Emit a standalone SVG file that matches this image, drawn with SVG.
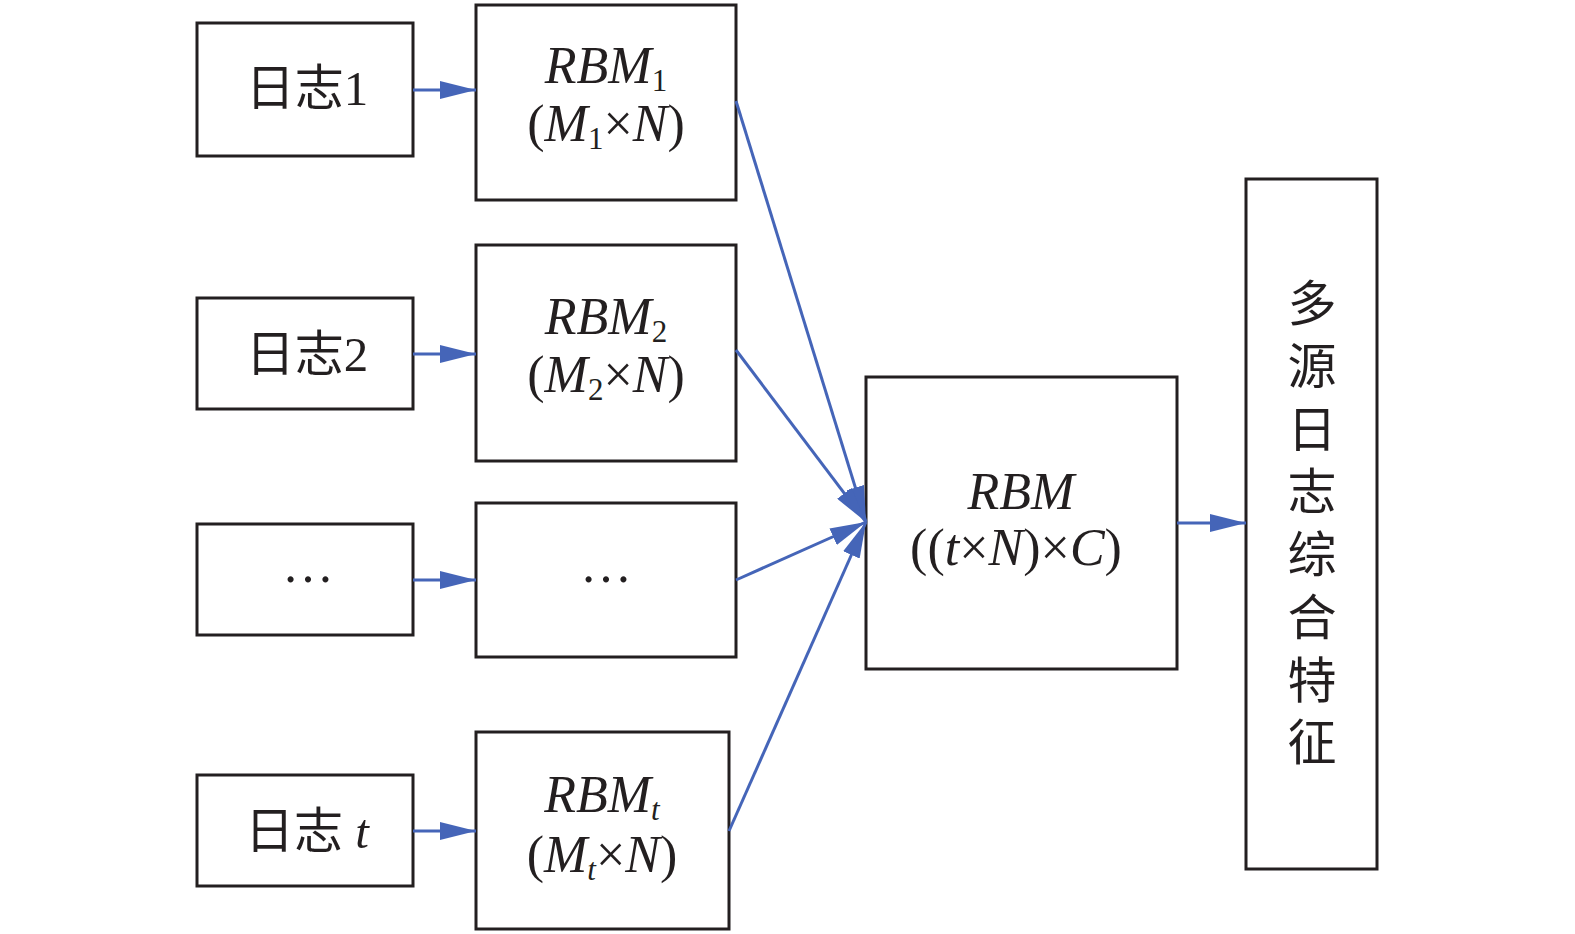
<svg xmlns="http://www.w3.org/2000/svg" width="1575" height="934" viewBox="0 0 1575 934">
<style>
.box{fill:#fff;stroke:#231f20;stroke-width:3}
.t{font-family:"Liberation Serif","Noto Sans CJK SC",serif;font-size:52px;fill:#231f20;text-anchor:middle}
.cjk{font-family:"Liberation Serif","Noto Sans CJK SC",serif;font-size:49px;fill:#231f20;text-anchor:middle}
.i{font-style:italic}
.sub{font-size:31px}
.con{stroke:#4565b8;stroke-width:3;fill:none;marker-end:url(#ah)}
</style>
<defs>
<marker id="ah" markerUnits="userSpaceOnUse" viewBox="0 0 36 18" refX="36" refY="9" markerWidth="36" markerHeight="18" orient="auto">
<path d="M0,0 L36,9 L0,18 z" fill="#4565b8"/>
</marker>
</defs>
<rect width="1575" height="934" fill="#fff"/>
<g id="log1"><rect class="box" x="197" y="23" width="216" height="133"/><text class="cjk" x="307" y="105">日志1</text></g>
<g id="log2"><rect class="box" x="197" y="298" width="216" height="111"/><text class="cjk" x="307" y="371">日志2</text></g>
<g id="log3"><rect class="box" x="197" y="524" width="216" height="111"/><text class="t" x="308" y="582">…</text></g>
<g id="logt"><rect class="box" x="197" y="775" width="216" height="111"/><text class="cjk" x="307" y="848">日志 <tspan class="i">t</tspan></text></g>
<g id="rbm1"><rect class="box" x="476" y="5" width="260" height="195"/>
<text class="t" x="606" y="83"><tspan class="i">RBM</tspan><tspan class="sub" dy="8">1</tspan></text>
<text class="t" x="606" y="141">(<tspan class="i">M</tspan><tspan class="sub" dy="8">1</tspan><tspan dy="-8">×</tspan><tspan class="i">N</tspan>)</text></g>
<g id="rbm2"><rect class="box" x="476" y="245" width="260" height="216"/>
<text class="t" x="606" y="334"><tspan class="i">RBM</tspan><tspan class="sub" dy="8">2</tspan></text>
<text class="t" x="606" y="392">(<tspan class="i">M</tspan><tspan class="sub" dy="8">2</tspan><tspan dy="-8">×</tspan><tspan class="i">N</tspan>)</text></g>
<g id="rbm3"><rect class="box" x="476" y="503" width="260" height="154"/><text class="t" x="606" y="582">…</text></g>
<g id="rbmt"><rect class="box" x="476" y="732" width="253" height="197"/>
<text class="t" x="602" y="812"><tspan class="i">RBM</tspan><tspan class="sub i" dy="8">t</tspan></text>
<text class="t" x="602" y="872">(<tspan class="i">M</tspan><tspan class="sub i" dy="8">t</tspan><tspan dy="-8">×</tspan><tspan class="i">N</tspan>)</text></g>
<g id="rbm"><rect class="box" x="866" y="377" width="311" height="292"/>
<text class="t" x="1021" y="509"><tspan class="i">RBM</tspan></text>
<text class="t" x="1016" y="565">((<tspan class="i">t</tspan>×<tspan class="i">N</tspan>)×<tspan class="i">C</tspan>)</text></g>
<g id="feature"><rect class="box" x="1246" y="179" width="131" height="690"/>
<text class="cjk" dominant-baseline="central"><tspan x="1312" y="304">多</tspan><tspan x="1312" y="367">源</tspan><tspan x="1312" y="430">日</tspan><tspan x="1312" y="492">志</tspan><tspan x="1312" y="555">综</tspan><tspan x="1312" y="618">合</tspan><tspan x="1312" y="681">特</tspan><tspan x="1312" y="743">征</tspan></text></g>
<g id="connectors">
<line class="con" x1="413" y1="90" x2="476" y2="90"/>
<line class="con" x1="413" y1="354" x2="476" y2="354"/>
<line class="con" x1="413" y1="580" x2="476" y2="580"/>
<line class="con" x1="413" y1="831" x2="476" y2="831"/>
<line class="con" x1="736" y1="101" x2="866" y2="522"/>
<line class="con" x1="736" y1="350" x2="866" y2="522"/>
<line class="con" x1="736" y1="580" x2="866" y2="522"/>
<line class="con" x1="729" y1="831" x2="866" y2="522"/>
<line class="con" x1="1177" y1="523" x2="1246" y2="523"/>
</g>
</svg>
